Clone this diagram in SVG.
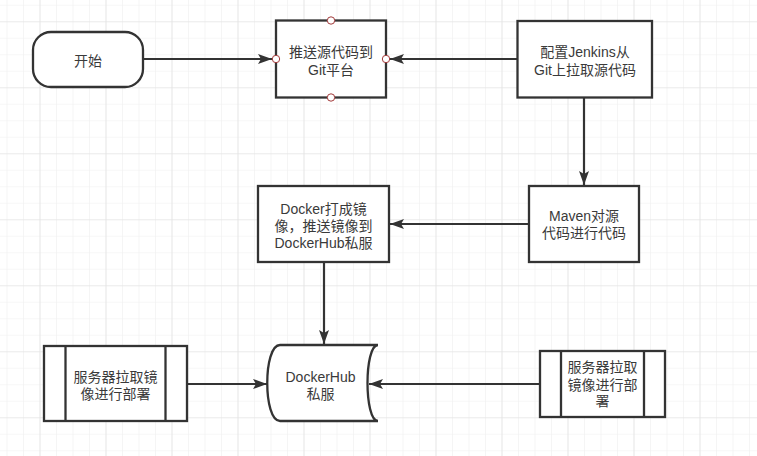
<svg xmlns="http://www.w3.org/2000/svg" width="757" height="456" viewBox="0 0 757 456">
  <defs>
    <pattern id="gridMinor" patternUnits="userSpaceOnUse" x="6.5" y="4.8" width="16.5" height="16.5">
      <path d="M0 0 H16.5 M0 0 V16.5" fill="none" stroke="#efefef" stroke-width="1.2"/>
    </pattern>
    <pattern id="gridMajor" patternUnits="userSpaceOnUse" x="39.5" y="21.3" width="66" height="66">
      <path d="M0 0 H66 M0 0 V66" fill="none" stroke="#e0e0e0" stroke-width="1.2"/>
    </pattern>
    <marker id="arrow" markerUnits="userSpaceOnUse" markerWidth="16" markerHeight="12" refX="14" refY="5" orient="auto">
      <path d="M0 0 L14 5 L0 10 L3 5 Z" fill="#333"/>
    </marker>
    <style>
      .node { fill: #ffffff; stroke: #333333; stroke-width: 2.3; }
      .inner { fill: none; stroke: #333333; stroke-width: 2.3; }
      .edge { fill: none; stroke: #333333; stroke-width: 2.2; marker-end: url(#arrow); }
      .port { fill: #ffffff; stroke: #a33a3a; stroke-width: 1; }
      text { font-family: "Liberation Sans", "Noto Sans CJK SC", sans-serif; font-size: 14px; fill: #3a3a3a; text-anchor: middle; }
    </style>
  </defs>

  <rect x="0" y="0" width="757" height="456" fill="#ffffff"/>
  <rect x="0" y="0" width="757" height="456" fill="url(#gridMinor)"/>
  <rect x="0" y="0" width="757" height="456" fill="url(#gridMajor)"/>

  <g id="connectors">
    <line class="edge" x1="143" y1="59" x2="272" y2="59"/>
    <line class="edge" x1="517" y1="59" x2="390" y2="59"/>
    <line class="edge" x1="584" y1="98" x2="584" y2="185"/>
    <line class="edge" x1="529" y1="224" x2="390" y2="224"/>
    <line class="edge" x1="324" y1="262" x2="324" y2="344"/>
    <line class="edge" x1="187" y1="384" x2="267" y2="384"/>
    <line class="edge" x1="540" y1="384" x2="369" y2="384"/>
  </g>

  <g id="start">
    <rect class="node" x="33" y="32" width="110" height="55" rx="18" ry="18"/>
    <text x="88" y="66">开始</text>
  </g>

  <g id="push-git">
    <rect class="node" x="276" y="20.5" width="110" height="77"/>
    <text x="331" y="57">推送源代码到<tspan x="331" dy="17.5">Git平台</tspan></text>
    <circle class="port" cx="331" cy="20.5" r="3.7"/>
    <circle class="port" cx="331" cy="97.5" r="3.7"/>
    <circle class="port" cx="276" cy="59" r="3.7"/>
    <circle class="port" cx="386" cy="59" r="3.7"/>
  </g>

  <g id="jenkins">
    <rect class="node" x="517.5" y="21" width="134.5" height="76.5"/>
    <text x="585" y="57">配置Jenkins从<tspan x="585" dy="17.5">Git上拉取源代码</tspan></text>
  </g>

  <g id="maven">
    <rect class="node" x="529" y="186" width="110" height="76"/>
    <text x="584" y="221">Maven对源<tspan x="584" dy="17">代码进行代码</tspan></text>
  </g>

  <g id="docker">
    <rect class="node" x="258" y="186" width="131" height="76"/>
    <text x="323.5" y="213.5">Docker打成镜<tspan x="323.5" dy="17.5">像，推送镜像到</tspan><tspan x="323.5" dy="17">DockerHub私服</tspan></text>
  </g>

  <g id="dockerhub">
    <path class="node" d="M280 345 L378 345 C364 345 364 421 378 421 L280 421 C263 421 263 345 280 345 Z"/>
    <text x="320.5" y="382">DockerHub<tspan x="320.5" dy="17">私服</tspan></text>
  </g>

  <g id="server-left">
    <rect class="node" x="44" y="346" width="143" height="75"/>
    <line class="inner" x1="65.5" y1="346" x2="65.5" y2="421"/>
    <line class="inner" x1="165.5" y1="346" x2="165.5" y2="421"/>
    <text x="115.5" y="382">服务器拉取镜<tspan x="115.5" dy="17">像进行部署</tspan></text>
  </g>

  <g id="server-right">
    <rect class="node" x="540" y="351" width="125" height="66"/>
    <line class="inner" x1="561" y1="351" x2="561" y2="417"/>
    <line class="inner" x1="644" y1="351" x2="644" y2="417"/>
    <text x="602.5" y="372">服务器拉取<tspan x="602.5" dy="18">镜像进行部</tspan><tspan x="602.5" dy="16">署</tspan></text>
  </g>
</svg>
